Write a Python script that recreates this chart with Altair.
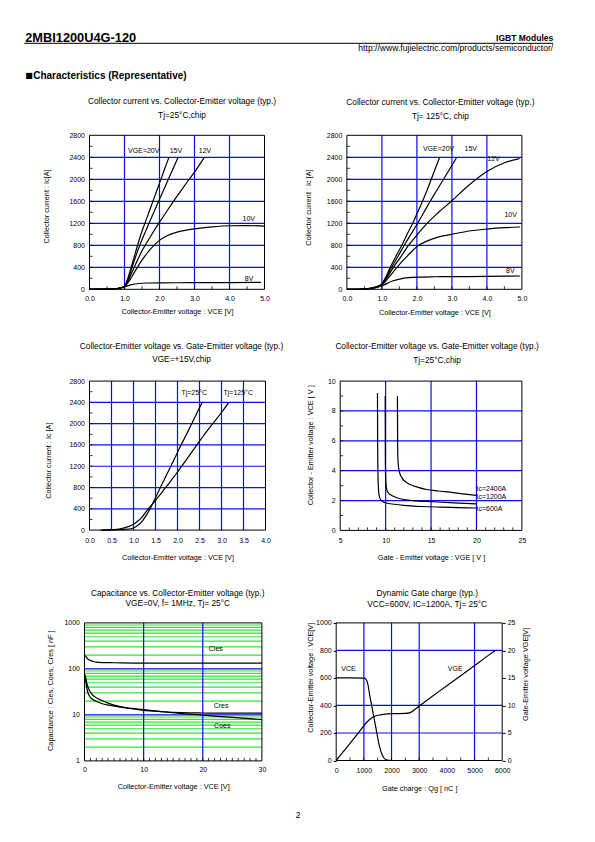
import altair as alt
import pandas as pd

FONT = "Liberation Sans"
BLUE = "#0a0aff"
GREEN = "#2ee62e"

# ---------------- Panel 1 : Ic vs VCE, Tj=25C ----------------
P1_V20_X = [0.0, 0.5, 0.8, 1.0, 1.1, 1.2, 1.3, 1.4, 1.5, 1.6, 1.7, 1.8, 1.9, 2.0, 2.1, 2.2, 2.27]
P1_V20_Y = [0, 3, 15, 55, 210, 420, 640, 860, 1055, 1230, 1405, 1580, 1755, 1930, 2105, 2280, 2400]
P1_V15_X = [0.0, 0.5, 0.8, 1.0, 1.1, 1.2, 1.3, 1.4, 1.5, 1.6, 1.7, 1.8, 1.9, 2.0, 2.1, 2.2, 2.3, 2.4, 2.53]
P1_V15_Y = [0, 3, 15, 52, 180, 370, 560, 740, 900, 1050, 1200, 1345, 1490, 1635, 1780, 1925, 2070, 2210, 2400]
P1_V12_X = [0.0, 0.5, 0.8, 1.0, 1.1, 1.2, 1.3, 1.4, 1.5, 1.6, 1.8, 2.0, 2.2, 2.4, 2.6, 2.8, 3.0, 3.28]
P1_V12_Y = [0, 3, 15, 50, 150, 290, 430, 570, 700, 810, 1020, 1220, 1410, 1600, 1780, 1960, 2130, 2400]
P1_V10_X = [0.0, 0.5, 0.8, 1.0, 1.1, 1.2, 1.35, 1.5, 1.65, 1.8, 2.0, 2.2, 2.5, 2.8, 3.0, 3.5, 4.0, 4.5, 5.0]
P1_V10_Y = [0, 3, 15, 45, 120, 220, 380, 530, 660, 770, 890, 970, 1040, 1080, 1100, 1135, 1155, 1158, 1150]
P1_V8_X = [0.0, 0.5, 0.8, 1.0, 1.2, 1.4, 1.7, 2.0, 3.0, 4.0, 4.9]
P1_V8_Y = [0, 3, 15, 45, 85, 105, 115, 118, 120, 122, 125]
P1_LBL_T = ["VGE=20V", "15V", "12V", "10V", "8V"]
P1_LBL_X = [1.55, 2.47, 3.30, 4.55, 4.56]
P1_LBL_Y = [2515, 2515, 2515, 1285, 194]

# ---------------- Panel 2 : Ic vs VCE, Tj=125C ----------------
P2_V20_X = [0.0, 0.5, 0.7, 0.9, 1.0, 1.1, 1.24, 1.4, 1.57, 1.72, 1.88, 2.02, 2.16, 2.29, 2.41, 2.53, 2.65]
P2_V20_Y = [0, 5, 20, 60, 100, 210, 400, 600, 800, 1000, 1200, 1400, 1600, 1800, 2000, 2200, 2400]
P2_V15_X = [0.0, 0.5, 0.7, 0.9, 1.0, 1.1, 1.28, 1.46, 1.64, 1.83, 2.02, 2.2, 2.38, 2.57, 2.76, 2.95, 3.14]
P2_V15_Y = [0, 5, 20, 58, 95, 190, 400, 600, 800, 1000, 1200, 1400, 1600, 1800, 2000, 2200, 2400]
P2_V12_X = [0.0, 0.5, 0.7, 0.9, 1.0, 1.1, 1.33, 1.55, 1.76, 2.02, 2.29, 2.62, 2.98, 3.5, 4.0, 4.5, 4.93]
P2_V12_Y = [0, 5, 18, 55, 90, 170, 400, 600, 800, 1000, 1200, 1400, 1600, 1900, 2140, 2300, 2376]
P2_V10_X = [0.0, 0.5, 0.7, 0.9, 1.0, 1.2, 1.43, 1.75, 2.05, 2.3, 2.6, 3.0, 3.5, 4.0, 4.5, 4.95]
P2_V10_Y = [0, 5, 16, 48, 78, 220, 400, 620, 800, 880, 950, 1000, 1060, 1095, 1120, 1133]
P2_V8_X = [0.0, 0.5, 0.7, 0.9, 1.0, 1.3, 1.6, 2.0, 2.5, 3.0, 4.0, 4.95]
P2_V8_Y = [0, 5, 15, 45, 65, 150, 200, 222, 228, 230, 235, 242]
P2_LBL_T = ["VGE=20V", "15V", "12V", "10V", "8V"]
P2_LBL_X = [2.62, 3.54, 4.19, 4.68, 4.67]
P2_LBL_Y = [2545, 2545, 2376, 1345, 333]

# ---------------- Panel 3 : Ic vs VCE, VGE=+15V ----------------
P3_T25_X = [0.25, 0.5, 0.8, 1.0, 1.1, 1.2, 1.3, 1.4, 1.5, 1.6, 1.7, 1.8, 1.9, 2.0, 2.1, 2.2, 2.3, 2.4, 2.5, 2.57]
P3_T25_Y = [0, 3, 12, 40, 90, 170, 290, 440, 610, 780, 950, 1120, 1290, 1460, 1630, 1790, 1960, 2130, 2300, 2412]
P3_T125_X = [0.3, 0.5, 0.7, 0.9, 1.0, 1.1, 1.2, 1.3, 1.4, 1.5, 1.6, 1.7, 1.8, 1.9, 2.0, 2.2, 2.4, 2.6, 2.8, 3.0, 3.16]
P3_T125_Y = [0, 8, 25, 70, 110, 170, 250, 360, 460, 560, 660, 770, 870, 980, 1090, 1320, 1555, 1785, 2000, 2210, 2393]
P3_LBL_T = ["Tj=25°C", "Tj=125°C"]
P3_LBL_X = [2.38, 3.38]
P3_LBL_Y = [2581, 2581]

# ---------------- Panel 4 : VCE vs VGE ----------------
P4_I600_X = [9.10, 9.11, 9.12, 9.14, 9.17, 9.22, 9.30, 9.45, 9.7, 10.0, 11.0, 12.0, 14.0, 16.0, 18.0, 20.0]
P4_I600_Y = [9.2, 8.0, 6.0, 4.5, 3.4, 2.7, 2.3, 2.05, 1.92, 1.85, 1.75, 1.68, 1.60, 1.56, 1.53, 1.50]
P4_I1200_X = [9.95, 9.96, 9.97, 9.99, 10.03, 10.1, 10.25, 10.5, 10.8, 11.6, 13.0, 15.3, 17.5, 20.0]
P4_I1200_Y = [9.0, 7.0, 5.0, 3.8, 3.2, 2.8, 2.55, 2.4, 2.3, 2.12, 2.0, 1.92, 1.85, 1.78]
P4_I2400_X = [11.30, 11.31, 11.32, 11.34, 11.38, 11.5, 11.8, 12.2, 12.7, 13.5, 14.5, 15.8, 17.1, 18.5, 20.0]
P4_I2400_Y = [9.0, 7.5, 6.0, 5.0, 4.5, 3.96, 3.52, 3.25, 3.07, 2.9, 2.74, 2.64, 2.56, 2.45, 2.34]
P4_LBL_T = ["Ic=2400A", "Ic=1200A", "Ic=600A"]
P4_LBL_X = [20.0, 20.0, 20.0]
P4_LBL_Y = [2.74, 2.25, 1.45]

# ---------------- Panel 5 : Capacitance ----------------
P5_CIES_X = [0.1, 0.3, 0.6, 1.0, 1.5, 2, 3, 5, 10, 15, 20, 25, 30]
P5_CIES_Y = [195, 180, 162, 152, 145, 140, 137, 136, 134, 134, 133, 133, 133]
P5_CRES_X = [0.1, 0.3, 0.6, 1.0, 1.5, 2, 3, 4, 5, 6.4, 8, 10, 13, 16.5, 20, 25, 30]
P5_CRES_Y = [75, 55, 40, 31, 26, 23.5, 20.5, 18, 16.3, 14.9, 13.6, 12.6, 11.8, 11.2, 11.0, 10.9, 10.9]
P5_COES_X = [0.1, 0.3, 0.5, 0.74, 1.0, 1.87, 3, 4.1, 6, 8, 10, 13, 16, 20, 25, 30]
P5_COES_Y = [68, 45, 33, 27, 24, 20, 17.5, 16.3, 14.8, 13.8, 13.0, 11.8, 10.8, 9.9, 8.8, 7.9]
P5_LBL_T = ["Cies", "Cres", "Coes"]
P5_LBL_X = [22.2, 23.1, 23.3]
P5_LBL_Y = [270, 16.0, 5.7]

# ---------------- Panel 6 : Dynamic gate charge ----------------
P6_VCE_X = [0, 500, 1000, 1080, 1150, 1200, 1318, 1435, 1553, 1670, 1788, 1906, 2000, 3000, 4000, 5000, 5750]
P6_VCE_Y = [600, 600, 598, 590, 550, 487, 362, 237, 112, 37, 8, 1, 0, 0, 0, 0, 0]
P6_VGE_X = [0, 250, 500, 800, 1000, 1100, 1200, 1300, 1400, 1600, 2000, 2500, 2650, 2750, 2850, 3000,
            3500, 4000, 4500, 5000, 5500, 5750]
P6_VGE_Y = [0, 1.55, 3.1, 5.0, 6.3, 6.9, 7.4, 7.8, 8.05, 8.3, 8.5, 8.55, 8.65, 8.9, 9.3, 9.9,
            11.75, 13.6, 15.4, 17.25, 19.1, 20.0]
P6_LBL_T = ["VCE", "VGE"]
P6_LBL_X = [445, 4300]
P6_LBL_Y = [666, 666]


# ---------------- helpers ----------------
def curves(series):
    rows = []
    for name, xs, ys in series:
        for i, (x, y) in enumerate(zip(xs, ys)):
            rows.append({"s": name, "i": i, "x": x, "y": y})
    return pd.DataFrame(rows)


class Panel:
    """Holds the scales/axes of one panel; the plot area starts `a` px into its cell."""

    def __init__(self, xdom, ydom, w, h, a, xax, yax, ylog=False):
        self.xdom, self.ydom, self.w, self.h, self.a = xdom, ydom, w, h, a
        self.xs = alt.Scale(domain=xdom, range=[a, a + w], nice=False, zero=False)
        if ylog:
            self.ys = alt.Scale(type="log", domain=ydom, nice=False)
        else:
            self.ys = alt.Scale(domain=ydom, nice=False, zero=False)
        self.xax, self.yax = xax, yax

    def X(self, f):
        return alt.X(f, scale=self.xs, axis=self.xax)

    def Y(self, f, ys=None, yax=None):
        return alt.Y(f, scale=ys or self.ys, axis=yax or self.yax)

    def lines(self, df, ys=None, yax=None, width=1.2):
        return alt.Chart(df).mark_line(color="black", strokeWidth=width, interpolate="monotone").encode(
            x=self.X("x:Q"), y=self.Y("y:Q", ys, yax), detail="s:N", order="i:Q")

    def texts(self, texts, xs, ys, align="center", size=7):
        df = pd.DataFrame({"t": texts, "x": xs, "y": ys})
        return alt.Chart(df).mark_text(font=FONT, fontSize=size, color="black", align=align,
                                       baseline="middle").encode(
            x=self.X("x:Q"), y=self.Y("y:Q"), text="t:N")

    def grid_v(self, vals, color=BLUE, width=1.2):
        return alt.Chart(pd.DataFrame({"v": vals})).mark_rule(color=color, strokeWidth=width).encode(
            x=self.X("v:Q"))

    def grid_h(self, vals, color=BLUE, width=1.2):
        df = pd.DataFrame({"v": vals, "lo": self.xdom[0], "hi": self.xdom[1]})
        return alt.Chart(df).mark_rule(color=color, strokeWidth=width).encode(
            y=self.Y("v:Q"), x=self.X("lo:Q"), x2="hi:Q")

    def ticks_bottom(self, vals, length=3):
        return alt.Chart(pd.DataFrame({"v": vals})).mark_rule(color="black", strokeWidth=0.8).encode(
            x=self.X("v:Q"), y=alt.value(self.h), y2=alt.value(self.h - length))

    def ticks_left(self, vals, length=3):
        return alt.Chart(pd.DataFrame({"v": vals})).mark_rule(color="black", strokeWidth=0.8).encode(
            y=self.Y("v:Q"), x=alt.value(self.a), x2=alt.value(self.a + length))

    def frame(self):
        df = pd.DataFrame({"x0": [self.xdom[0]], "x1": [self.xdom[1]],
                           "y0": [self.ydom[0]], "y1": [self.ydom[1]]})
        return alt.Chart(df).mark_rect(fillOpacity=0, stroke="black", strokeWidth=1).encode(
            x=self.X("x0:Q"), x2="x1:Q", y=self.Y("y0:Q"), y2="y1:Q")

    def finish(self, chart, title, subtitle, offset, subpad, dx):
        return chart.properties(
            width=self.a + self.w, height=self.h,
            title=alt.TitleParams(text=title, subtitle=subtitle, frame="group", anchor="middle",
                                  dx=dx + self.a / 2, offset=offset, subtitlePadding=subpad,
                                  font=FONT, subtitleFont=FONT, fontSize=8.3, subtitleFontSize=8.3,
                                  fontWeight="normal", color="black", subtitleColor="black"))


def seq(a, b, step):
    out, v = [], a
    while v <= b + 1e-9:
        out.append(round(v, 6))
        v += step
    return out


def spacer(w, h):
    return alt.Chart(pd.DataFrame({"a": [0]})).mark_point(opacity=0).encode(
        x=alt.X("a:Q", axis=None), y=alt.Y("a:Q", axis=None)).properties(width=w, height=h)


# ---------------- Panel 1 ----------------
A1 = 5
P = Panel([0, 5], [0, 2800], 175, 154, A1,
          alt.Axis(values=seq(0, 5, 1), format=".1f", title="Collector-Emitter voltage : VCE [V]",
                   labelPadding=5, titleY=21.7),
          alt.Axis(values=seq(0, 2800, 400), format="d", title="Collector current : Ic[A]",
                   labelPadding=5, offset=-A1, titleX=-42.6, titleY=70.7))
p1 = P.finish(alt.layer(
    P.grid_v([1, 2, 3, 4]), P.grid_h(seq(400, 2400, 400)),
    P.ticks_bottom(seq(0.5, 4.5, 0.5)), P.ticks_left(seq(200, 2600, 200)),
    P.lines(curves([("20", P1_V20_X, P1_V20_Y), ("15", P1_V15_X, P1_V15_Y), ("12", P1_V12_X, P1_V12_Y),
                    ("10", P1_V10_X, P1_V10_Y), ("8", P1_V8_X, P1_V8_Y)])),
    P.texts(P1_LBL_T, P1_LBL_X, P1_LBL_Y),
    P.frame(),
), "Collector current vs. Collector-Emitter voltage (typ.)", "Tj=25°C,chip", 11.9, 6.1, 5)

# ---------------- Panel 2 ----------------
A2 = 10.7
P = Panel([0, 5], [0, 2800], 175, 154, A2,
          alt.Axis(values=seq(0, 5, 1), format=".1f", title="Collector-Emitter voltage : VCE [V]",
                   labelPadding=5, titleY=22.7),
          alt.Axis(values=seq(0, 2800, 400), format="d", title="Collector current : Ic [A]",
                   labelPadding=5, offset=-A2, titleX=-38.4, titleY=71.7))
p2 = P.finish(alt.layer(
    P.grid_v([1, 2, 3, 4]), P.grid_h(seq(400, 2400, 400)),
    P.ticks_bottom(seq(0.5, 4.5, 0.5)), P.ticks_left(seq(200, 2600, 200)),
    P.lines(curves([("20", P2_V20_X, P2_V20_Y), ("15", P2_V15_X, P2_V15_Y), ("12", P2_V12_X, P2_V12_Y),
                    ("10", P2_V10_X, P2_V10_Y), ("8", P2_V8_X, P2_V8_Y)])),
    P.texts(P2_LBL_T, P2_LBL_X, P2_LBL_Y),
    P.frame(),
), "Collector current vs. Collector-Emitter voltage (typ.)", "Tj= 125°C, chip", 10.9, 6.1, 6)

# ---------------- Panel 3 ----------------
A3 = 5
P = Panel([0, 4], [0, 2800], 176, 149, A3,
          alt.Axis(values=seq(0, 4, 0.5), format=".1f", title="Collector-Emitter voltage : VCE [V]",
                   labelPadding=6.5, titleY=27.6),
          alt.Axis(values=seq(0, 2800, 400), format="d", title="Collector current : Ic [A]",
                   labelPadding=5, offset=-A3, titleX=-41, titleY=79))
p3 = P.finish(alt.layer(
    P.grid_v(seq(0.5, 3.5, 0.5)), P.grid_h(seq(400, 2400, 400)),
    P.ticks_left(seq(200, 2600, 200)),
    P.lines(curves([("25", P3_T25_X, P3_T25_Y), ("125", P3_T125_X, P3_T125_Y)])),
    P.texts(P3_LBL_T, P3_LBL_X, P3_LBL_Y),
    P.frame(),
), "Collector-Emitter voltage  vs. Gate-Emitter voltage (typ.)", "VGE=+15V,chip", 13.7, 5, 4)

# ---------------- Panel 4 ----------------
A4 = 4
P = Panel([5, 25], [0, 10], 181.7, 149.3, A4,
          alt.Axis(values=[5, 10, 15, 20, 25], format="d", title="Gate - Emitter voltage  :  VGE  [ V ]",
                   labelPadding=6.5, titleY=27.3),
          alt.Axis(values=[0, 2, 4, 6, 8, 10], format="d", title="Collector - Emitter voltage : VCE  [ V ]",
                   labelPadding=5, offset=-A4, titleX=-30, titleY=63.7))
p4 = P.finish(alt.layer(
    P.grid_v([10, 15, 20]), P.grid_h([2, 4, 6, 8]),
    P.ticks_bottom(seq(6, 24, 1)), P.ticks_left(seq(1, 9, 1)),
    P.lines(curves([("600", P4_I600_X, P4_I600_Y), ("1200", P4_I1200_X, P4_I1200_Y),
                    ("2400", P4_I2400_X, P4_I2400_Y)])),
    P.texts(P4_LBL_T, P4_LBL_X, P4_LBL_Y, align="left"),
    P.frame(),
), "Collector-Emitter voltage vs. Gate-Emitter voltage (typ.)", "Tj=25°C,chip", 13.3, 5, 6)

# ---------------- Panel 5 ----------------
P = Panel([0, 30], [1, 1000], 177.4, 138, 0,
          alt.Axis(values=[0, 10, 20, 30], format="d", title="Collector-Emitter voltage : VCE [V]",
                   labelPadding=5, titleY=26),
          alt.Axis(values=[1, 10, 100, 1000], format="d", title="Capacitance : Cies, Coes, Cres  [ nF ]",
                   labelPadding=5, titleX=-34.3, titleY=67.3),
          ylog=True)
GREEN_VALS = [m * d for d in (1, 10, 100) for m in range(2, 10)]
p5 = P.finish(alt.layer(
    P.grid_h(GREEN_VALS, color=GREEN, width=1.2),
    P.grid_h([10, 100]), P.grid_v([10, 20]),
    P.ticks_bottom(seq(1, 29, 1)),
    P.lines(curves([("cies", P5_CIES_X, P5_CIES_Y), ("cres", P5_CRES_X, P5_CRES_Y),
                    ("coes", P5_COES_X, P5_COES_Y)])),
    P.texts(P5_LBL_T, P5_LBL_X, P5_LBL_Y),
    P.frame(),
), "Capacitance vs. Collector-Emitter voltage (typ.)", "VGE=0V,  f= 1MHz,  Tj= 25°C", 11.3, 2.4, 4.5)

# ---------------- Panel 6 ----------------
P = Panel([0, 6000], [0, 1000], 166, 137.6, 0,
          alt.Axis(values=seq(0, 6000, 1000), format="d", title="Gate charge : Qg [ nC ]",
                   labelPadding=5.5, titleY=28.4),
          alt.Axis(values=seq(0, 1000, 200), format="d", title="Collector-Emitter voltage : VCE[V]",
                   ticks=True, tickSize=3, tickColor="black", labelPadding=2,
                   titleX=-26, titleY=54.3))
ys6r = alt.Scale(domain=[0, 25], nice=False)
ya6r = alt.Axis(values=seq(0, 25, 5), format="d", orient="right",
                title="Gate-Emitter voltage:VGE[V]", titleAngle=270,
                ticks=True, tickSize=3, tickColor="black", labelPadding=2,
                titleX=23, titleY=51)
left6 = alt.layer(
    P.grid_v([1000, 2000, 3000, 5000]), P.grid_h([200, 400, 800]),
    P.ticks_bottom(seq(500, 5500, 500)),
    P.lines(curves([("vce", P6_VCE_X, P6_VCE_Y)])),
    P.texts(P6_LBL_T, P6_LBL_X, P6_LBL_Y),
    P.frame(),
)
right6 = P.lines(curves([("vge", P6_VGE_X, P6_VGE_Y)]), ys=ys6r, yax=ya6r)
p6 = P.finish(alt.layer(left6, right6).resolve_scale(y="independent"),
              "Dynamic Gate charge (typ.)", "VCC=600V, IC=1200A, Tj= 25°C", 11, 2.4, 8)

# ---------------- Header ----------------
def htext(t, x, y, size, weight="normal", align="left", baseline="alphabetic", font=FONT):
    return alt.Chart(pd.DataFrame({"t": [t]})).mark_text(
        font=font, fontSize=size, fontWeight=weight, align=align, baseline=baseline, color="black"
    ).encode(x=alt.value(x), y=alt.value(y), text="t:N")

# header origin = page (84.3, 31.5)
HDR_H = 11.1
header = alt.layer(
    htext("2MBI1200U4G-120", -59.3, 0, 12.8, "bold", baseline="top"),
    alt.Chart(pd.DataFrame({"t": [0]})).mark_rule(color="black", strokeWidth=1).encode(
        x=alt.value(-60.3), x2=alt.value(468.7), y=alt.value(11.8)),
    htext("IGBT Modules", 468.7, 9.2, 8.5, "bold", align="right"),
    htext("http://www.fujielectric.com/products/semiconductor/", 468.7, 19.2, 8.6, align="right"),
    htext("■", -59.3, 44.5, 8, baseline="middle", font="DejaVu Sans"),
    htext("Characteristics (Representative)", -51.3, 44.5, 10, "bold", baseline="middle"),
    htext("2", 213.7, 783.5, 8.5, align="center", baseline="middle"),
).properties(width=1, height=HDR_H)

cells = [header, spacer(1, HDR_H), p1, p2, p3, p4, p5, p6]

chart = alt.concat(
    *cells, columns=2, spacing={"row": 91.8, "column": 70.7}, bounds="flush",
    align={"row": "each", "column": "each"},
).properties(
    padding={"left": 15.5, "top": 23.5, "right": 5, "bottom": 5},
    background="white",
).configure_view(stroke=None).configure_axis(
    grid=False, domain=False, ticks=False, labelFlush=False, labelOverlap=False,
    labelFont=FONT, labelFontSize=7, labelColor="black",
    titleFont=FONT, titleFontSize=7.3, titleFontWeight="normal", titleColor="black",
    titleBaseline="middle",
)

chart.save("out.html", embed_options={"renderer": "svg", "actions": False})
